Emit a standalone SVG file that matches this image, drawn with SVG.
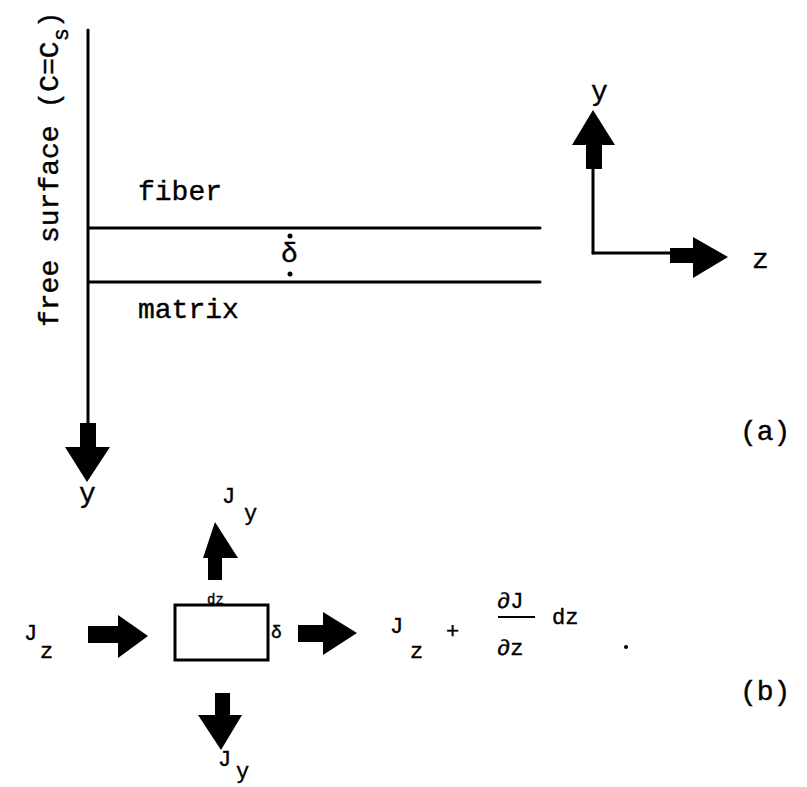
<svg xmlns="http://www.w3.org/2000/svg" width="807" height="787" viewBox="0 0 807 787">
<style>
text{font-family:"Liberation Mono","DejaVu Sans Mono",monospace;fill:#000;stroke:#000;stroke-width:0.4}
.t{font-size:28px}
.s{font-size:22px}
.ln{stroke:#000;stroke-width:3;fill:none;stroke-linecap:round}
.ar{fill:#000}
</style>
<rect width="807" height="787" fill="#fff"/>
<g id="connectors">
<line class="ln" x1="88" y1="30" x2="88" y2="425"/>
<line class="ln" x1="89" y1="228" x2="540" y2="228"/>
<line class="ln" x1="89" y1="282" x2="540" y2="282"/>
<line class="ln" x1="593" y1="168" x2="593" y2="253"/>
<line class="ln" x1="593" y1="253" x2="672" y2="253"/>
</g>
<g id="arrow-a-y">
<rect class="ar" x="80" y="423" width="16" height="25"/>
<polygon class="ar" points="65,447 110,447 87,482"/>
</g>
<g id="axis-y">
<rect class="ar" x="586" y="143" width="16" height="26"/>
<polygon class="ar" points="572,145 615,145 593,110"/>
</g>
<g id="axis-z">
<rect class="ar" x="670" y="248" width="25" height="15"/>
<polygon class="ar" points="693,237 693,278 728,257"/>
</g>
<g id="labels-a">
<text class="t" transform="translate(58,327) rotate(-90)">free surface (C=C<tspan font-size="22" dy="10">s</tspan><tspan dy="-10">)</tspan></text>
<text class="t" x="138" y="200">fiber</text>
<text class="t" x="138" y="318">matrix</text>
<text class="t" x="281" y="262">δ</text>
<circle cx="290" cy="236" r="2.5"/>
<circle cx="290" cy="274" r="2.5"/>
<text class="t" x="79" y="502">y</text>
<text class="t" x="591" y="100">y</text>
<text class="t" x="752" y="268">z</text>
<text class="t" x="740" y="440">(a)</text>
</g>
<g id="element">
<rect x="175" y="605" width="93" height="55" fill="none" stroke="#000" stroke-width="3"/>
<text x="207" y="604" font-size="14">dz</text>
<text x="271" y="638" font-size="18">δ</text>
</g>
<g id="flux-in-z">
<rect class="ar" x="88" y="626" width="32" height="17"/>
<polygon class="ar" points="118,615 118,658 148,636"/>
</g>
<g id="flux-out-z">
<rect class="ar" x="298" y="625" width="27" height="17"/>
<polygon class="ar" points="323,612 323,655 357,633"/>
</g>
<g id="flux-up-y">
<rect class="ar" x="208" y="555" width="14" height="25"/>
<polygon class="ar" points="203,558 238,558 215,522"/>
</g>
<g id="flux-down-y">
<rect class="ar" x="215" y="693" width="15" height="24"/>
<polygon class="ar" points="198,715 242,715 221,750"/>
</g>
<g id="labels-b">
<text class="s" x="24" y="640">J</text><text class="s" x="40" y="658">z</text>
<text class="s" x="222" y="503">J</text><text class="s" x="244" y="520">y</text>
<text class="s" x="218" y="766">J</text><text class="s" x="236" y="778">y</text>
<text class="s" x="390" y="633">J</text><text class="s" x="410" y="658">z</text>
<text class="s" x="446" y="638">+</text>
<text class="s" x="497" y="608">∂J</text>
<line x1="498" y1="617" x2="535" y2="617" stroke="#000" stroke-width="2"/>
<text class="s" x="497" y="655">∂z</text>
<text class="s" x="552" y="624">dz</text>
<circle cx="626" cy="647" r="2"/>
<text class="t" x="740" y="700">(b)</text>
</g>
</svg>
